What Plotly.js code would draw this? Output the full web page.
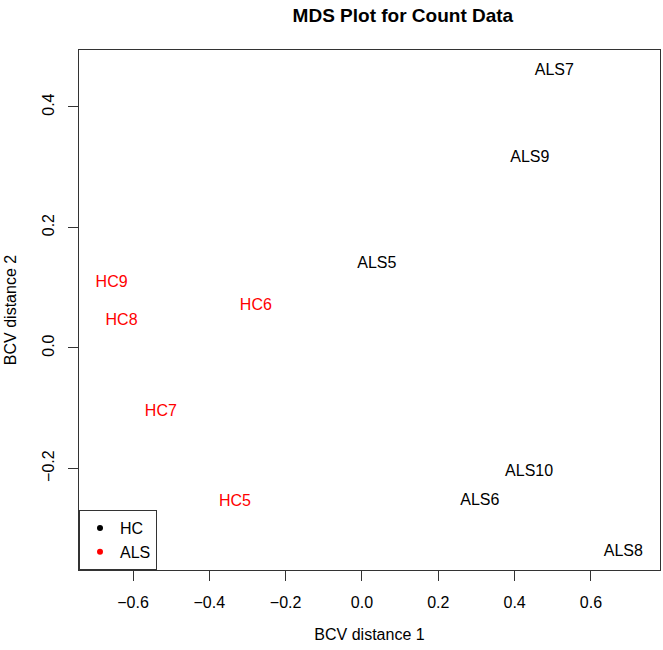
<!DOCTYPE html>
<html>
<head>
<meta charset="utf-8">
<script src="https://cdn.plot.ly/plotly-3.0.1.min.js"></script>
<style>body{margin:0;padding:0;background:#fff;} #chart{width:663px;height:650px;}</style>
</head>
<body>
<div id="chart"></div>
<script>
// Sample labels and MDS coordinates
const hcLabels = ["HC5", "HC6", "HC7", "HC8", "HC9"];
const hcDim1   = [-0.333, -0.278, -0.527, -0.630, -0.656];
const hcDim2   = [-0.255, 0.070, -0.106, 0.044, 0.108];

const alsLabels = ["ALS5", "ALS6", "ALS7", "ALS8", "ALS9", "ALS10"];
const alsDim1   = [0.039, 0.309, 0.504, 0.685, 0.440, 0.438];
const alsDim2   = [0.139, -0.254, 0.460, -0.338, 0.315, -0.206];

const legendNames  = ["HC", "ALS"];
const legendColors = ["#000000", "#ff0000"];

const xTicks = [-0.6, -0.4, -0.2, 0.0, 0.2, 0.4, 0.6];
const yTicks = [-0.2, 0.0, 0.2, 0.4];

const FONT = "Liberation Sans, Arial, Helvetica, sans-serif";

const traces = [
  {
    x: hcDim1, y: hcDim2, text: hcLabels, mode: "text", type: "scatter",
    textfont: {family: FONT, size: 16, color: "#ff0000"},
    textposition: "middle center", showlegend: false, hoverinfo: "text"
  },
  {
    x: alsDim1, y: alsDim2, text: alsLabels, mode: "text", type: "scatter",
    textfont: {family: FONT, size: 16, color: "#000000"},
    textposition: "middle center", showlegend: false, hoverinfo: "text"
  }
];
legendNames.forEach((n, i) => {
  traces.push({
    x: [null], y: [null], mode: "markers", type: "scatter", name: n,
    marker: {color: legendColors[i], size: 6}, showlegend: true
  });
});

const layout = {
  width: 663, height: 650,
  margin: {l: 79, r: 3, t: 50, b: 80},
  paper_bgcolor: "#ffffff", plot_bgcolor: "#ffffff",
  font: {family: FONT, size: 16, color: "#000000"},
  title: {
    text: "<b>MDS Plot for Count Data</b>",
    font: {family: FONT, size: 19, color: "#000000"},
    x: 0.5575, xanchor: "center", xref: "paper",
    y: 1 - 15/650, yanchor: "middle", yref: "container"
  },
  xaxis: {
    range: [-0.7415, 0.781], tickvals: xTicks, ticktext: xTicks.map(v => v.toFixed(1).replace("-", "\u2212")),
    ticks: "outside", ticklen: 10, tickcolor: "#333", tickwidth: 1,
    showgrid: false, zeroline: false, showline: true, linecolor: "#333", linewidth: 1, mirror: true,
    ticklabelstandoff: 8,
    tickfont: {family: FONT, size: 16, color: "#000"},
    title: {text: "BCV distance 1", font: {family: FONT, size: 16, color: "#000"}, standoff: 18}
  },
  yaxis: {
    range: [-0.3685, 0.4946], tickvals: yTicks, ticktext: yTicks.map(v => v.toFixed(1).replace("-", "\u2212")),
    ticks: "outside", ticklen: 10, tickcolor: "#333", tickwidth: 1, tickangle: -90,
    showgrid: false, zeroline: false, showline: true, linecolor: "#333", linewidth: 1, mirror: true,
    ticklabelstandoff: 8,
    tickfont: {family: FONT, size: 16, color: "#000"},
    title: {text: "BCV distance 2", font: {family: FONT, size: 16, color: "#000"}, standoff: 18}
  },
  legend: {
    x: 0, y: 0, xanchor: "left", yanchor: "bottom",
    bgcolor: "#ffffff", bordercolor: "#333", borderwidth: 1,
    font: {family: FONT, size: 16, color: "#000"},
    itemwidth: 30, tracegroupgap: 0
  },
  hovermode: "closest"
};

Plotly.newPlot("chart", traces, layout, {displayModeBar: false, staticPlot: true});
</script>
</body>
</html>
